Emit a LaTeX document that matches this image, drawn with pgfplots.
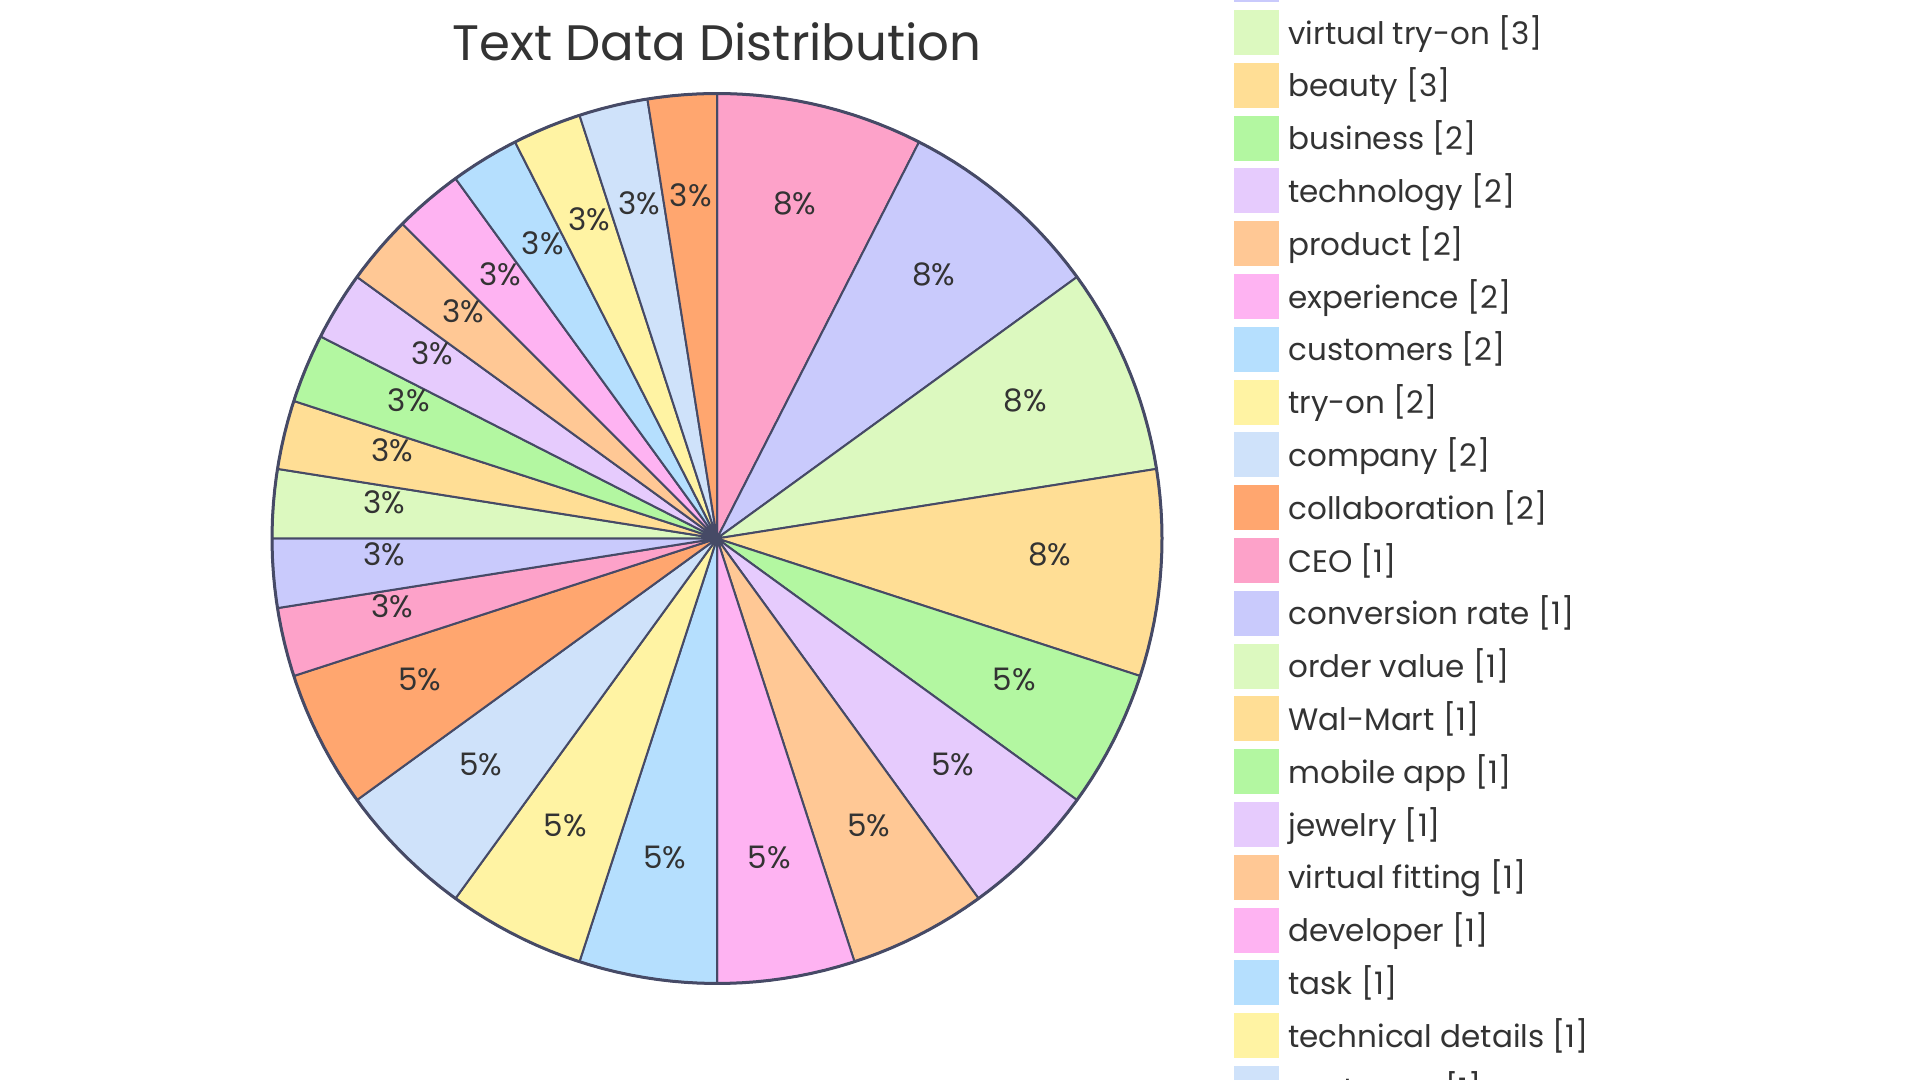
\documentclass[border=0pt]{standalone}
\usepackage{pgfplots}
\pgfplotsset{compat=1.18}
\usepackage{pgfplotstable}
\usepackage{fontspec}
\setmainfont{Poppins}

\definecolor{c1}{HTML}{FDA2C9}
\definecolor{c2}{HTML}{C9CAFC}
\definecolor{c3}{HTML}{DCF9BF}
\definecolor{c4}{HTML}{FFDE95}
\definecolor{c5}{HTML}{B3F7A1}
\definecolor{c6}{HTML}{E6CBFD}
\definecolor{c7}{HTML}{FFC895}
\definecolor{c8}{HTML}{FEB3F2}
\definecolor{c9}{HTML}{B5DFFE}
\definecolor{c10}{HTML}{FFF3A3}
\definecolor{c11}{HTML}{CFE2FA}
\definecolor{c12}{HTML}{FFA66F}
\definecolor{edge}{HTML}{464A66}
\definecolor{txt}{HTML}{333333}

\pgfplotstableread[col sep=comma]{
name,count
shopping,3
augmented reality,3
virtual try-on,3
beauty,3
business,2
technology,2
product,2
experience,2
customers,2
try-on,2
company,2
collaboration,2
CEO,1
conversion rate,1
order value,1
Wal-Mart,1
mobile app,1
jewelry,1
virtual fitting,1
developer,1
task,1
technical details,1
customer,1
feature,1
}\pietable

\def\cx{717}
\def\cy{541.5}
\def\R{445}

\begin{document}
\begin{tikzpicture}
\begin{axis}[
  scale only axis, width=960pt, height=540pt,
  xmin=0, xmax=1920, ymin=0, ymax=1080,
  hide axis, clip=false,
  legend cell align=left,
  legend image code/.code={\fill[#1,draw=none] (0pt,-11.25pt) rectangle (22.5pt,11.25pt);},
  legend style={draw=none, fill=none, at={(axis cs:1234,1176)}, anchor=north west,
    inner xsep=0pt, inner ysep=0pt, font=\fontsize{15.5pt}{18pt}\selectfont, text=txt,
    nodes={inner sep=0pt, text height=13pt, text depth=1.5pt},
    row sep=3.9pt, column sep=4.5pt},
]
\pgfplotstablegetrowsof{\pietable}
\pgfmathtruncatemacro\N{\pgfplotsretval-1}
\def\total{0}
\pgfplotsforeachungrouped \i in {0,...,\N}{%
  \pgfplotstablegetelem{\i}{count}\of\pietable
  \pgfmathsetmacro\total{\total+\pgfplotsretval}%
}
\def\cum{0}
\pgfplotsforeachungrouped \i in {0,...,\N}{%
  \pgfplotstablegetelem{\i}{count}\of\pietable \let\cnt\pgfplotsretval
  \pgfplotstablegetelem{\i}{name}\of\pietable \let\nm\pgfplotsretval
  \pgfmathsetmacro\astart{90-360*\cum/\total}%
  \pgfmathsetmacro\cum{\cum+\cnt}%
  \pgfmathsetmacro\aend{90-360*\cum/\total}%
  \pgfmathtruncatemacro\ci{mod(\i,12)+1}%
  \edef\temp{\noexpand\addplot[fill=c\ci, draw=edge, line width=1pt, line join=round, domain=\aend:\astart, samples=40]
    ({\cx+\R*cos(x)},{\cy+\R*sin(x)}) -- (axis cs:\cx,\cy) -- cycle;
    \noexpand\addlegendentry{\nm\space[\cnt]}}%
  \temp
}
\addplot[draw=edge, line width=1.5pt, domain=0:360, samples=200, forget plot] ({\cx+\R*cos(x)},{\cy+\R*sin(x)});
\def\cum{0}
\pgfplotsforeachungrouped \i in {0,...,\N}{%
  \pgfplotstablegetelem{\i}{count}\of\pietable \let\cnt\pgfplotsretval
  \pgfmathsetmacro\astart{90-360*\cum/\total}%
  \pgfmathsetmacro\cum{\cum+\cnt}%
  \pgfmathsetmacro\aend{90-360*\cum/\total}%
  \pgfmathsetmacro\am{(\astart+\aend)/2}%
  \pgfmathsetmacro\lx{\cx+0.75*\R*cos(\am)}%
  \pgfmathsetmacro\ly{\cy+10.5+0.75*\R*sin(\am)}%
  \pgfmathtruncatemacro\pct{round(100*\cnt/\total)}%
  \edef\temp{\noexpand\node[font=\noexpand\fontsize{15.5pt}{18pt}\noexpand\selectfont, text=txt] at (axis cs:\lx,\ly) {\pct\noexpand\%};}%
  \temp
}
\node[font=\fontsize{24.9pt}{28pt}\selectfont, text=txt] at (axis cs:717,1038) {Text Data Distribution};
\end{axis}
\pgfresetboundingbox
\useasboundingbox (0,0) rectangle (960pt,540pt);
\end{tikzpicture}
\end{document}
